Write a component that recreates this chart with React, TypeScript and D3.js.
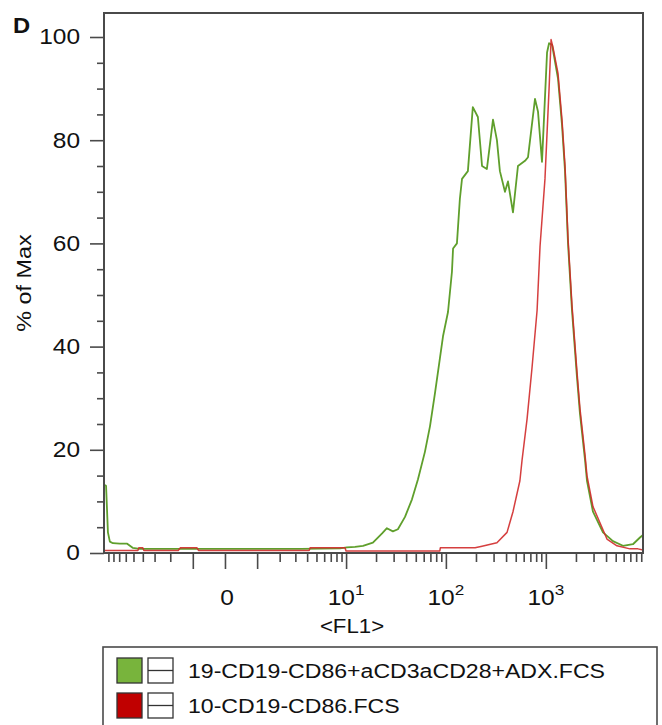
import { useRef, useEffect } from 'react';
import * as d3 from 'd3';

// FL1 values (logicle-like axis) and % of Max
const greenX = [-9.74, -9.5, -9.1, -8.7, -8.1, -6.9, -5.8, -5.1, -4.3, -3.4, -1.5, 0, 3.4, 8.7, 10.2, 12.3, 14.8, 18.6, 20.4, 23, 25.7, 29.5, 33.1, 39, 45.8, 52.6, 61.7, 69.4, 77.8, 87, 93.6, 105, 115, 118, 129, 138, 145, 166, 186, 209, 230, 257, 296, 324, 347, 390, 418, 469, 526, 619, 663, 779, 835, 915, 1028, 1077, 1154, 1322, 1450, 1555, 1666, 1826, 2050, 2194, 2466, 2578, 2960, 3727, 4690, 5904, 7435, 8737, 9370];
const greenY = [13.2, 13, 4, 2.2, 1.9, 1.8, 1.8, 1.0, 0.8, 0.8, 0.8, 0.8, 0.8, 0.9, 1.1, 1.2, 1.4, 2.0, 2.8, 3.8, 4.8, 4.2, 4.6, 7, 10.4, 14.3, 19.6, 24.6, 31, 37.6, 42, 46.7, 54.5, 59, 60, 68.6, 72.5, 74, 86.4, 84.5, 75, 74.4, 84, 80, 74, 70, 72, 66, 75, 76, 76.7, 88, 85.5, 75.8, 97, 98.8, 98.5, 92, 83, 74, 60, 47, 34, 27, 18, 14, 8, 4, 2.3, 1.4, 1.7, 3, 3.5];

const redX = [-9.74, -4.5, -4.4, -4.0, -3.9, -1.6, -1.5, -0.85, -0.8, 4.2, 4.3, 9.75, 10, 87, 88, 196, 230, 324, 409, 469, 550, 578, 649, 728, 817, 875, 980, 1077, 1128, 1178, 1322, 1450, 1555, 1666, 1826, 2050, 2194, 2466, 2578, 2960, 4085, 5143, 6939, 8344, 9370];
const redY = [0.5, 0.5, 1.0, 1.0, 0.5, 0.5, 1.0, 1.0, 0.5, 0.5, 1.0, 1.0, 0.4, 0.4, 1.0, 1.0, 1.3, 2.0, 4, 8, 14, 18, 26, 36, 47, 59.5, 72.5, 90, 99.5, 98, 93, 84, 75, 61, 48, 35, 28, 19, 15, 9, 2.7, 1.4, 0.8, 0.8, 0.6];

const xMajor = [-1, 0, 1, 10, 100, 1000];
const xMinor = [-9, -8, -7, -6, -5, -4, -3, -2, 2, 3, 4, 5, 6, 7, 8, 9, 20, 30, 40, 50, 60, 70, 80, 90, 200, 300, 400, 500, 600, 700, 800, 900, 2000, 3000, 4000, 5000, 6000, 7000, 8000, 9000];
const xLabels = [0, 10, 100, 1000];
const yMajor = [0, 20, 40, 60, 80, 100];
const yMinor = d3.range(5, 100, 5).filter(v => v % 20 !== 0);

const legendNames = ['19-CD19-CD86+aCD3aCD28+ADX.FCS', '10-CD19-CD86.FCS'];
const lineColors = ['#5f9f2c', '#d02a2a'];
const swatchColors = ['#78b43c', '#c00000'];

const FONT = "'Liberation Sans', Arial, Helvetica, sans-serif";
const SX = 1.14; // the original lettering is a little wide
const C = 1.234;
const tf = (v: number) => Math.asinh(v / C);

export default function App() {
  const ref = useRef<SVGSVGElement>(null);

  useEffect(() => {
    if (!ref.current) return;
    const svg = d3.select(ref.current);
    svg.selectAll('*').remove();

    const left = 104, right = 643, top = 13, bottom = 553;
    const xT = d3.scaleLinear().domain([tf(-9.74), tf(9370)]).range([left + 1, right]);
    const x = (v: number) => xT(tf(v));
    const y = d3.scaleLinear().domain([0, 100]).range([bottom, 37]);

    const axisColor = '#4a4a4a';

    const label = (x0: number, y0: number, size: number, anchor = 'start', sx = SX, rot = 0) =>
      svg.append('text')
        .attr('transform', `translate(${x0},${y0})${rot ? ` rotate(${rot})` : ''} scale(${sx},1)`)
        .attr('text-anchor', anchor).attr('font-family', FONT).attr('font-size', size).attr('fill', '#111');

    // curves
    const line = d3.line<[number, number]>().x(d => x(d[0])).y(d => y(d[1]));
    const green = greenX.map((v, i) => [v, greenY[i]] as [number, number]);
    const red = redX.map((v, i) => [v, redY[i]] as [number, number]);
    svg.append('path').datum(green).attr('d', line).attr('fill', 'none')
      .attr('stroke', lineColors[0]).attr('stroke-width', 1.8).attr('stroke-linejoin', 'round');
    svg.append('path').datum(red).attr('d', line).attr('fill', 'none')
      .attr('stroke', lineColors[1]).attr('stroke-width', 1.5).attr('stroke-opacity', 0.9).attr('stroke-linejoin', 'round');

    // frame
    svg.append('rect').attr('x', left).attr('y', top).attr('width', right - left).attr('height', bottom - top)
      .attr('fill', 'none').attr('stroke', axisColor).attr('stroke-width', 2);

    // x axis ticks
    const gx = svg.append('g').attr('transform', `translate(0,${bottom})`);
    gx.call(d3.axisBottom(xT).tickValues(xMajor.map(tf)).tickSize(16).tickFormat(() => ''));
    gx.call(g => g.select('.domain').remove());
    const gx2 = svg.append('g').attr('transform', `translate(0,${bottom})`);
    gx2.call(d3.axisBottom(xT).tickValues(xMinor.map(tf)).tickSize(9).tickFormat(() => ''));
    gx2.call(g => g.select('.domain').remove());
    svg.selectAll('.tick line').attr('stroke', axisColor).attr('stroke-width', 1.6);

    xLabels.forEach(v => {
      const t = label(x(v) + (v === 0 ? 2 : 0), 605, 21.5, 'middle');
      if (v === 0) {
        t.text('0');
      } else {
        t.append('tspan').text('10');
        t.append('tspan').attr('dy', -10).attr('font-size', 15).text(String(Math.round(Math.log10(v))));
      }
    });

    // y axis
    const gy = svg.append('g').attr('transform', `translate(${left},0)`);
    gy.call(d3.axisLeft(y).tickValues(yMajor).tickSize(14).tickPadding(10));
    gy.call(g => g.select('.domain').remove());
    gy.selectAll('.tick line').attr('stroke', axisColor).attr('stroke-width', 1.6);
    gy.selectAll('.tick text').attr('font-family', FONT).attr('font-size', 21.5).attr('fill', '#111')
      .attr('x', -24 / SX).attr('transform', `scale(${SX},1)`);
    const gy2 = svg.append('g').attr('transform', `translate(${left},0)`);
    gy2.call(d3.axisLeft(y).tickValues(yMinor).tickSize(7).tickFormat(() => ''));
    gy2.call(g => g.select('.domain').remove());
    gy2.selectAll('.tick line').attr('stroke', axisColor).attr('stroke-width', 1.6);

    // titles
    label(13, 33, 22, 'start', 1.08).attr('font-weight', 'bold').text('D');
    label(31, 283, 20.5, 'middle', SX, -90).text('% of Max');
    label(352, 633, 19.5, 'middle').text('<FL1>');

    // legend
    const lg = svg.append('g');
    lg.append('rect').attr('x', 103).attr('y', 647).attr('width', 554).attr('height', 100)
      .attr('fill', '#fff').attr('stroke', axisColor).attr('stroke-width', 1.6);
    legendNames.forEach((name, i) => {
      const cy = 670 + i * 35;
      lg.append('rect').attr('x', 117).attr('y', cy - 12).attr('width', 25).attr('height', 25)
        .attr('fill', swatchColors[i]).attr('stroke', '#333').attr('stroke-width', 1.3);
      lg.append('rect').attr('x', 148).attr('y', cy - 12).attr('width', 25).attr('height', 25)
        .attr('fill', '#fff').attr('stroke', '#333').attr('stroke-width', 1.3);
      lg.append('line').attr('x1', 148).attr('x2', 173).attr('y1', cy + 0.5).attr('y2', cy + 0.5)
        .attr('stroke', '#333').attr('stroke-width', 1.3);
      label(188, cy + 8, 21, 'start', 1.1).text(name);
    });
  }, []);

  return (
    <svg ref={ref} width={662} height={725}
      style={{ position: 'absolute', left: 0, top: 0, display: 'block', background: '#fff' }} />
  );
}
